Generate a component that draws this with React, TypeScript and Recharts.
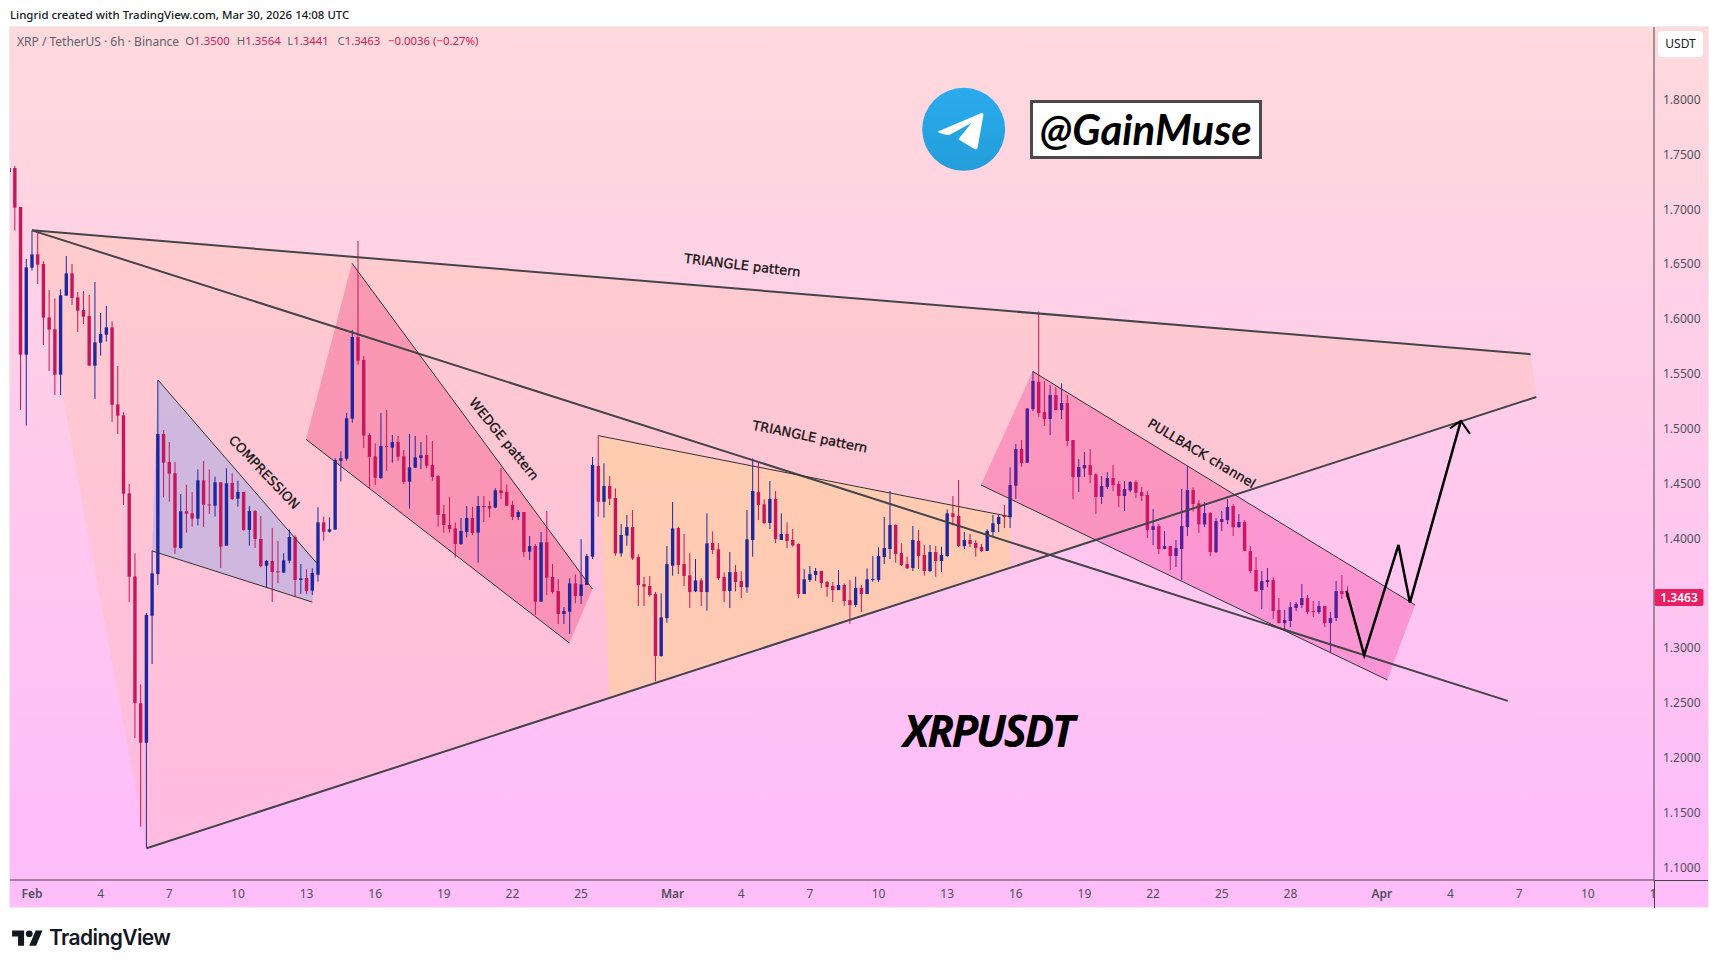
import React from 'react';
import { ComposedChart, Bar, Scatter, XAxis, YAxis, ReferenceDot } from 'recharts';

// candle index 0 is Feb 1 00:00, one candle every 6 hours
const firstCandle = -4;

const opens = [
  1.7340,1.7376,1.7021,1.5675,1.6468,1.6589,1.6501,1.6015,1.5906,1.5493,
  1.6213,1.6416,1.6198,1.6082,1.6027,1.5575,1.5784,1.5857,1.5924,1.5222,
  1.5122,1.4412,1.3655,1.2498,1.2139,1.3296,1.3676,1.4952,1.4697,1.4594,
  1.3913,1.4248,1.4229,1.4181,1.4530,1.4311,1.4299,1.4512,1.3935,1.4506,
  1.4363,1.4424,1.4078,1.4251,1.3995,1.3752,1.3795,1.3701,1.3689,1.3798,
  1.4014,1.3622,1.3640,1.3525,1.3670,1.4147,1.4062,1.4081,1.4709,1.4727,
  1.5092,1.5836,1.5626,1.4943,1.4749,1.4551,1.4843,1.4828,1.4879,1.4749,
  1.4518,1.4645,1.4733,1.4761,1.4670,1.4569,1.4223,1.4123,1.4092,1.3950,
  1.4059,1.4187,1.4053,1.4296,1.4296,1.4281,1.4439,1.4424,1.4305,1.4196,
  1.4241,1.3880,1.3931,1.3424,1.3965,1.3649,1.3521,1.3312,1.3333,1.3591,
  1.3476,1.3576,1.3834,1.4660,1.4335,1.4478,1.4369,1.3865,1.4026,1.4104,
  1.3831,1.3585,1.3567,1.3494,1.2929,1.3275,1.3752,1.4095,1.3767,1.3664,
  1.3518,1.3618,1.3512,1.3959,1.3901,1.3649,1.3521,1.3694,1.3612,1.3555,
  1.3986,1.4423,1.4311,1.4141,1.4360,1.3986,1.4041,1.3986,1.3950,1.3494,
  1.3622,1.3667,1.3704,1.3603,1.3567,1.3530,1.3576,1.3439,1.3394,1.3549,
  1.3494,1.3622,1.3622,1.3831,1.3904,1.4123,1.3868,1.3767,1.3731,1.3977,
  1.3849,1.3704,1.3877,1.3795,1.3840,1.4229,1.4205,1.3931,1.3986,1.3959,
  1.3922,1.3886,1.4059,1.4132,1.4205,1.4193,1.4481,1.4815,1.4690,1.5179,
  1.5426,1.5152,1.5088,1.5307,1.5170,1.5234,1.4897,1.4560,1.4639,1.4669,
  1.4584,1.4378,1.4469,1.4551,1.4496,1.4387,1.4438,1.4514,1.4423,1.4396,
  1.4077,1.4113,1.3904,1.3931,1.3840,1.3904,1.4104,1.4441,1.4320,1.4128,
  1.4232,1.3876,1.4150,1.4168,1.4296,1.4104,1.4150,1.3885,1.3712,1.3530,
  1.3603,1.3621,1.3348,1.3229,1.3248,1.3366,1.3393,1.3457,1.3339,1.3330,
  1.3384,1.3229,1.3275,1.3521,1.3500,
];

const highs = [
  1.7380,1.7394,1.7021,1.6547,1.6805,1.6796,1.6526,1.6264,1.6188,1.6270,
  1.6574,1.6501,1.6246,1.6255,1.6219,1.6337,1.6055,1.6119,1.5979,1.5572,
  1.5150,1.4497,1.3865,1.2671,1.3321,1.3889,1.5444,1.4989,1.4879,1.4697,
  1.4406,1.4488,1.4424,1.4630,1.4706,1.4630,1.4563,1.4515,1.4639,1.4594,
  1.4527,1.4424,1.4296,1.4260,1.4205,1.3804,1.4096,1.3977,1.3865,1.4084,
  1.4029,1.3768,1.3719,1.3728,1.4284,1.4199,1.4193,1.4731,1.4794,1.5143,
  1.5900,1.6711,1.5663,1.4958,1.4867,1.5143,1.5171,1.4943,1.4934,1.4806,
  1.4952,1.4934,1.4879,1.4943,1.4888,1.4578,1.4305,1.4381,1.4147,1.4187,
  1.4296,1.4290,1.4387,1.4387,1.4342,1.4457,1.4642,1.4493,1.4342,1.4259,
  1.4241,1.4023,1.3950,1.4059,1.4250,1.3767,1.3631,1.3376,1.3637,1.3673,
  1.3995,1.3859,1.4742,1.4937,1.4685,1.4569,1.4457,1.4132,1.4214,1.4259,
  1.3858,1.3652,1.3658,1.3512,1.3500,1.3931,1.4332,1.4108,1.4041,1.3865,
  1.3813,1.3637,1.4229,1.4065,1.3959,1.3691,1.3877,1.3758,1.3700,1.4259,
  1.4730,1.4691,1.4357,1.4524,1.4433,1.4229,1.4147,1.4086,1.3956,1.3719,
  1.3749,1.3731,1.3704,1.3612,1.3603,1.3713,1.3591,1.3622,1.3652,1.3576,
  1.3728,1.3840,1.3919,1.4196,1.4433,1.4129,1.3956,1.3834,1.4114,1.4077,
  1.3940,1.3940,1.3931,1.3925,1.4265,1.4387,1.4533,1.4059,1.4041,1.3986,
  1.3950,1.4083,1.4214,1.4214,1.4305,1.4648,1.4861,1.4897,1.5186,1.5523,
  1.6069,1.5435,1.5398,1.5383,1.5413,1.5307,1.4897,1.4724,1.4788,1.4815,
  1.4593,1.4569,1.4605,1.4669,1.4523,1.4523,1.4523,1.4533,1.4469,1.4432,
  1.4268,1.4132,1.4068,1.3931,1.3986,1.4451,1.4660,1.4466,1.4350,1.4332,
  1.4241,1.4186,1.4250,1.4359,1.4314,1.4223,1.4168,1.3931,1.3831,1.3703,
  1.3731,1.3646,1.3457,1.3348,1.3421,1.3421,1.3585,1.3485,1.3430,1.3430,
  1.3384,1.3330,1.3612,1.3667,1.3564,
];

const lows = [
  1.7340,1.6805,1.5171,1.5028,1.6441,1.6319,1.5763,1.5526,1.5308,1.5308,
  1.6213,1.6128,1.5882,1.5955,1.5575,1.5271,1.5666,1.5794,1.5062,1.4952,
  1.4305,1.3421,1.2182,1.1374,1.1177,1.2856,1.3576,1.4375,1.4336,1.3859,
  1.3907,1.4053,1.4108,1.4120,1.4105,1.4223,1.4199,1.3731,1.3935,1.4351,
  1.4290,1.4071,1.3935,1.3913,1.3737,1.3555,1.3421,1.3592,1.3689,1.3774,
  1.3470,1.3494,1.3494,1.3485,1.3607,1.3980,1.4053,1.4081,1.4518,1.4709,
  1.5055,1.5584,1.4824,1.4457,1.4487,1.4542,1.4618,1.4691,1.4706,1.4496,
  1.4272,1.4642,1.4633,1.4642,1.4527,1.4108,1.4053,1.4056,1.3825,1.3941,
  1.4010,1.4032,1.3780,1.4150,1.4193,1.4275,1.4360,1.4296,1.4168,1.4168,
  1.3831,1.3804,1.3303,1.3424,1.3485,1.3497,1.3221,1.3221,1.3130,1.3409,
  1.3403,1.3576,1.3813,1.4199,1.4190,1.4305,1.3843,1.3834,1.3934,1.3804,
  1.3385,1.3385,1.3470,1.2698,1.2923,1.3233,1.3661,1.3676,1.3567,1.3366,
  1.3512,1.3385,1.3342,1.3858,1.3622,1.3421,1.3366,1.3518,1.3457,1.3506,
  1.3834,1.4168,1.4132,1.4086,1.3959,1.3986,1.3913,1.3925,1.3457,1.3494,
  1.3603,1.3612,1.3549,1.3470,1.3421,1.3530,1.3385,1.3221,1.3375,1.3330,
  1.3494,1.3606,1.3603,1.3767,1.3813,1.3779,1.3749,1.3722,1.3704,1.3722,
  1.3661,1.3694,1.3652,1.3694,1.3834,1.4120,1.3922,1.3904,1.3922,1.3834,
  1.3877,1.3886,1.4010,1.4059,1.4095,1.4095,1.4359,1.4654,1.4690,1.5161,
  1.5110,1.5025,1.4943,1.5170,1.5088,1.4842,1.4359,1.4423,1.4560,1.4505,
  1.4223,1.4314,1.4451,1.4432,1.4286,1.4250,1.4423,1.4368,1.4341,1.4004,
  1.3940,1.3858,1.3904,1.3712,1.3740,1.3621,1.4022,1.4244,1.4050,1.4104,
  1.3840,1.3867,1.4068,1.4131,1.4022,1.4095,1.3885,1.3685,1.3512,1.3357,
  1.3557,1.3266,1.3229,1.3175,1.3193,1.3339,1.3366,1.3311,1.3284,1.3311,
  1.3193,1.2959,1.3248,1.3448,1.3441,
];

const closes = [
  1.7376,1.7015,1.5675,1.6471,1.6589,1.6495,1.6012,1.5903,1.5493,1.6216,
  1.6416,1.6192,1.6076,1.6021,1.5575,1.5787,1.5863,1.5924,1.5219,1.5119,
  1.4408,1.3652,1.2501,1.2139,1.3303,1.3683,1.4952,1.4691,1.4591,1.3917,
  1.4248,1.4226,1.4181,1.4530,1.4308,1.4305,1.4512,1.3926,1.4503,1.4360,
  1.4424,1.4078,1.4251,1.3995,1.3749,1.3795,1.3695,1.3695,1.3801,1.4014,
  1.3622,1.3637,1.3522,1.3686,1.4147,1.4062,1.4084,1.4715,1.4731,1.5095,
  1.5836,1.5620,1.4937,1.4745,1.4554,1.4843,1.4834,1.4879,1.4745,1.4515,
  1.4648,1.4739,1.4758,1.4663,1.4560,1.4214,1.4123,1.4086,1.3950,1.4068,
  1.4187,1.4050,1.4296,1.4290,1.4272,1.4439,1.4414,1.4299,1.4196,1.4241,
  1.3877,1.3931,1.3424,1.3965,1.3643,1.3512,1.3312,1.3339,1.3591,1.3476,
  1.3582,1.3840,1.4670,1.4335,1.4478,1.4363,1.3865,1.4032,1.4104,1.3819,
  1.3576,1.3561,1.3485,1.2929,1.3281,1.3767,1.4092,1.3758,1.3658,1.3512,
  1.3618,1.3512,1.3956,1.3895,1.3637,1.3521,1.3694,1.3603,1.3558,1.3992,
  1.4433,1.4305,1.4141,1.4360,1.3995,1.4041,1.3977,1.3937,1.3494,1.3628,
  1.3676,1.3704,1.3594,1.3558,1.3530,1.3576,1.3430,1.3394,1.3549,1.3494,
  1.3628,1.3631,1.3840,1.3913,1.4123,1.3858,1.3758,1.3728,1.3986,1.3840,
  1.3704,1.3877,1.3795,1.3849,1.4229,1.4196,1.3931,1.3986,1.3950,1.3913,
  1.3886,1.4068,1.4138,1.4196,1.4196,1.4487,1.4815,1.4687,1.5186,1.5435,
  1.5143,1.5088,1.5307,1.5170,1.5234,1.4888,1.4560,1.4651,1.4669,1.4578,
  1.4378,1.4478,1.4551,1.4487,1.4387,1.4451,1.4514,1.4417,1.4387,1.4077,
  1.4113,1.3904,1.3931,1.3840,1.3913,1.4113,1.4441,1.4314,1.4128,1.4232,
  1.3876,1.4159,1.4177,1.4286,1.4104,1.4150,1.3888,1.3703,1.3521,1.3612,
  1.3621,1.3339,1.3229,1.3257,1.3375,1.3403,1.3457,1.3330,1.3330,1.3384,
  1.3229,1.3275,1.3521,1.3494,1.3463,
];

// 1.3500 sits behind the last price tag in the original, so it is not listed
const priceTicks = [1.1, 1.15, 1.2, 1.25, 1.3, 1.4, 1.45, 1.5, 1.55, 1.6, 1.65, 1.7, 1.75, 1.8];
const timeTicks = [0, 12, 24, 36, 48, 60, 72, 84, 96, 112, 124, 136, 148, 160, 172, 184, 196, 208, 220, 236, 248, 260, 272, 284];
const timeLabels = ['Feb', '4', '7', '10', '13', '16', '19', '22', '25', 'Mar', '4', '7', '10', '13', '16', '19', '22', '25', '28', 'Apr', '4', '7', '10', '13'];
const lastPrice = 1.3463;

// drawings, in candle index / price
const bigTriangle = [{ x: 0, y: 1.6808 }, { x: 262, y: 1.568 }, { x: 263, y: 1.529 }, { x: 20.03, y: 1.1177 }];
const topLine = [{ x: 0, y: 1.6808 }, { x: 262, y: 1.568 }];
const bottomLine = [{ x: 20.03, y: 1.1177 }, { x: 263, y: 1.529 }];
const diagonalLine = [{ x: 0, y: 1.6808 }, { x: 258, y: 1.252 }];
const compression = [{ x: 22.03, y: 1.5444 }, { x: 49.9, y: 1.3768 }, { x: 49, y: 1.3421 }, { x: 21.03, y: 1.3886 }];
const wedge = [{ x: 55.94, y: 1.6508 }, { x: 97.97, y: 1.354 }, { x: 93.97, y: 1.3047 }, { x: 47.9, y: 1.4904 }];
const orangeTriangle = [{ x: 99, y: 1.4937 }, { x: 171, y: 1.4199 }, { x: 171, y: 1.3743 }, { x: 100.9, y: 1.2558 }];
const pullback = [{ x: 174.94, y: 1.5523 }, { x: 241.8, y: 1.3394 }, { x: 236.95, y: 1.2711 }, { x: 165.9, y: 1.4488 }];
const forecastPath = [
  { x: 229.8, y: 1.3524 }, { x: 232.9, y: 1.2938 }, { x: 238.9, y: 1.3941 }, { x: 240.9, y: 1.3415 }, { x: 249.8, y: 1.5072 },
];
const forecastHead = [{ x: 247.9, y: 1.5004 }, { x: 249.8, y: 1.5072 }, { x: 251.4, y: 1.4953 }];

const noteTexts = ['COMPRESSION', 'WEDGE pattern', 'TRIANGLE pattern', 'TRIANGLE pattern', 'PULLBACK channel'];
const noteX = [40.6, 82.5, 124.2, 136, 204.5];
const noteY = [1.4603, 1.4907, 1.649, 1.4928, 1.4776];
const noteAngles = [46.4, 50.8, 6.8, 11.5, 30.7];
const notes = noteTexts.map((text, i) => ({ text, x: noteX[i], y: noteY[i], angle: noteAngles[i] }));

const candles = opens.map((open, i) => ({
  x: firstCandle + i,
  open,
  high: highs[i],
  low: lows[i],
  close: closes[i],
  range: [lows[i], highs[i]],
}));

const WIDTH = 1718;
const HEIGHT = 968;
const AXIS_X = 1654;
const UP = '#1F279F';
const DOWN = '#C4175C';
const TICK = '#50505C';
const LINE = '#44444A';
const RED_TEXT = '#D02060';
const GREY_TEXT = '#60606E';
const FONT = '"Noto Sans", sans-serif';

const Candle = (props: any) => {
  const { x, y, width, height, payload } = props;
  const { open, high, low, close } = payload;
  const color = close >= open ? UP : DOWN;
  const cx = x + width / 2;
  const at = (v: number) => y + ((high - v) / (high - low)) * height;
  const top = at(Math.max(open, close));
  const bottom = at(Math.min(open, close));
  return (
    <g>
      <line x1={cx} x2={cx} y1={y} y2={y + height} stroke={color} strokeWidth={1} />
      <rect x={cx - 1.7} y={top} width={3.4} height={Math.max(bottom - top, 1)} fill={color} />
    </g>
  );
};

const noMark = () => <g />;
const toPoints = (pts: any[]) => pts.map((p) => `${p.x},${p.y}`).join(' ');

// Scatter hands its line renderer the scaled points, which gives polygons and polylines on the axes
const area = (key: string, data: any[], fill: string, zIndex: number) => (
  <Scatter
    key={key}
    data={data}
    shape={noMark}
    isAnimationActive={false}
    zIndex={zIndex}
    line={(p: any) => <polygon points={toPoints(p.points)} fill={fill} stroke="none" />}
  />
);

const stroke = (key: string, data: any[], color: string, width: number, zIndex: number) => (
  <Scatter
    key={key}
    data={data}
    shape={noMark}
    isAnimationActive={false}
    zIndex={zIndex}
    line={(p: any) => (
      <polyline points={toPoints(p.points)} fill="none" stroke={color} strokeWidth={width} strokeLinejoin="miter" />
    )}
  />
);

const NoteText = (props: any) => {
  const { cx, cy, payload } = props;
  return (
    <text
      x={cx}
      y={cy}
      transform={`rotate(${payload.angle} ${cx} ${cy})`}
      textAnchor="middle"
      dominantBaseline="central"
      fontFamily='"DejaVu Sans", sans-serif'
      fontSize={13}
      fill="#111"
      stroke="#111"
      strokeWidth={0.3}
    >
      {payload.text}
    </text>
  );
};

const TimeTick = (props: any) => {
  const { x, y, payload } = props;
  const label = timeLabels[timeTicks.indexOf(payload.value)];
  const isMonth = label.length === 3;
  return (
    <g>
      <clipPath id={`time-${payload.value}`}>
        <rect x={0} y={880} width={AXIS_X} height={28} />
      </clipPath>
      <text
        x={x}
        y={y + 11.5}
        clipPath={`url(#time-${payload.value})`}
        textAnchor="middle"
        dominantBaseline="central"
        fontFamily={FONT}
        fontSize={12}
        fontWeight={isMonth ? 600 : 400}
        fill={TICK}
      >
        {label}
      </text>
    </g>
  );
};

const PriceTag = (props: any) => {
  const { cx, cy } = props;
  return (
    <g>
      <rect x={cx + 0.5} y={cy - 8.5} width={49} height={17} rx={2} fill="#E91E63" />
      <text
        x={cx + 25}
        y={cy}
        textAnchor="middle"
        dominantBaseline="central"
        fontFamily={FONT}
        fontSize={12}
        fontWeight={600}
        fill="#fff"
      >
        {lastPrice.toFixed(4)}
      </text>
    </g>
  );
};

const abs = (left: number, top: number, extra: React.CSSProperties = {}): React.CSSProperties => ({
  position: 'absolute',
  left,
  top,
  ...extra,
});

const Ohlc = ({ left, label, value }: { left: number; label: string; value: string }) => (
  <div style={abs(left, 33, { fontSize: 11.4, whiteSpace: 'pre', color: RED_TEXT })}>
    <span style={{ color: GREY_TEXT }}>{label}</span>
    {value}
  </div>
);

export default function App() {
  return (
    <div style={abs(0, 0, { width: WIDTH, height: HEIGHT, background: '#fff', overflow: 'hidden', fontFamily: FONT })}>
      <div style={abs(10, 7, { fontSize: 11.45, fontWeight: 500, color: '#131722', whiteSpace: 'nowrap' })}>
        Lingrid created with TradingView.com, Mar 30, 2026 14:08 UTC
      </div>

      <div
        style={abs(9, 26, {
          width: 1698,
          height: 880,
          border: '1px solid #EDEDED',
          background: 'linear-gradient(180deg, #FFDADC 0%, #FFBDFA 92%, #FFBDFA 100%)',
        })}
      />

      <div style={abs(0, 0)}>
        <ComposedChart
          width={WIDTH}
          height={HEIGHT}
          data={candles}
          margin={{ top: 27, right: 10, bottom: 60, left: 10 }}
        >
          <XAxis
            dataKey="x"
            type="number"
            domain={[-3.846, 283.57]}
            allowDataOverflow
            ticks={timeTicks}
            interval={0}
            height={28}
            tickSize={0}
            tick={<TimeTick />}
            axisLine={{ stroke: LINE }}
            tickLine={false}
          />
          <YAxis
            dataKey="y"
            type="number"
            orientation="right"
            domain={[1.0888, 1.8661]}
            allowDataOverflow
            ticks={priceTicks}
            interval={0}
            width={54}
            tickSize={0}
            tickMargin={9}
            tickFormatter={(v: number) => v.toFixed(4)}
            tick={{ fill: TICK, fontSize: 12, fontFamily: FONT }}
            axisLine={{ stroke: LINE }}
            tickLine={false}
          />

          {area('big-triangle', bigTriangle, 'rgba(255,180,120,0.2)', 110)}
          {area('compression', compression, 'rgba(160,170,230,0.5)', 120)}
          {area('wedge', wedge, 'rgba(238,40,110,0.3)', 120)}
          {area('orange', orangeTriangle, 'rgba(255,210,150,0.55)', 120)}

          <Bar dataKey="range" barSize={4} shape={<Candle />} isAnimationActive={false} zIndex={300} />

          {area('pullback', pullback, 'rgba(238,15,127,0.26)', 400)}

          {stroke('top-line', topLine, LINE, 2, 500)}
          {stroke('bottom-line', bottomLine, LINE, 2, 500)}
          {stroke('diagonal-line', diagonalLine, LINE, 2, 500)}
          {stroke('compression-top', compression.slice(0, 2), '#333', 1, 500)}
          {stroke('compression-bottom', compression.slice(2), '#333', 1, 500)}
          {stroke('wedge-top', wedge.slice(0, 2), '#333', 1, 500)}
          {stroke('wedge-bottom', wedge.slice(2), '#333', 1, 500)}
          {stroke('orange-top', orangeTriangle.slice(0, 2), '#333', 1, 500)}
          {stroke('pullback-top', pullback.slice(0, 2), '#333', 1, 500)}
          {stroke('pullback-bottom', pullback.slice(2), '#333', 1, 500)}
          {stroke('forecast', forecastPath, '#000', 2.5, 510)}
          {stroke('forecast-head', forecastHead, '#000', 2, 510)}

          <Scatter data={notes} shape={<NoteText />} isAnimationActive={false} zIndex={520} />

          <ReferenceDot
            x={283.57}
            y={lastPrice}
            ifOverflow="visible"
            shape={<PriceTag />}
            zIndex={600}
          />
        </ComposedChart>
      </div>

      {/* axis lines run on past the plot area */}
      <div style={abs(1654, 880, { width: 54, height: 1, background: LINE })} />
      <div style={abs(1654, 880, { width: 1, height: 28, background: LINE })} />

      <div style={abs(17, 33, { fontSize: 12, whiteSpace: 'pre', color: GREY_TEXT })}>XRP / TetherUS · 6h · Binance</div>
      <Ohlc left={185.2} label="O" value="1.3500" />
      <Ohlc left={236.7} label="H" value="1.3564" />
      <Ohlc left={287.2} label="L" value="1.3441" />
      <Ohlc left={337.5} label="C" value="1.3463" />
      <Ohlc left={387.9} label="" value="−0.0036 (−0.27%)" />

      <div
        style={abs(1658, 31, {
          width: 45,
          height: 26,
          background: '#fff',
          borderRadius: 4,
          fontSize: 12,
          color: '#131722',
          textAlign: 'center',
          lineHeight: '26px',
        })}
      >
        USDT
      </div>

      <svg style={abs(880, 60)} width={420} height={130} viewBox="0 0 1260 390">
        <defs>
          <linearGradient id="telegram" x1="0" y1="0" x2="0" y2="1">
            <stop offset="0%" stopColor="#2AABEE" />
            <stop offset="100%" stopColor="#229ED9" />
          </linearGradient>
        </defs>
        <circle cx={251} cy={208} r={124.5} fill="url(#telegram)" />
        <path
          d="M177 213 L303 160 Q311 157 310 166 L293 262 Q291 272 282 266 L235 238 L275 188 L208 225 Q200 226 180 219 Q170 215 177 213 Z"
          fill="#fff"
        />
      </svg>

      <div
        style={abs(1030, 100, {
          width: 225.5,
          height: 52.5,
          border: '3px solid #4A4A4A',
          background: '#fff',
          color: '#000',
          fontFamily: 'Lato, sans-serif',
          fontStyle: 'italic',
          fontWeight: 700,
          fontSize: 42,
          lineHeight: '52px',
          textAlign: 'center',
          whiteSpace: 'nowrap',
        })}
      >
        @GainMuse
      </div>

      <div
        style={abs(903, 702, {
          fontFamily: '"Open Sans", sans-serif',
          fontStyle: 'italic',
          fontWeight: 700,
          fontSize: 44,
          lineHeight: '56px',
          letterSpacing: -2.5,
          color: '#000',
          whiteSpace: 'nowrap',
        })}
      >
        XRPUSDT
      </div>

      <svg style={abs(11.5, 926.6)} width={31} height={24} viewBox="0 0 36 28">
        <path d="M14 22H7V11H0V4h14v18zM28 22h-8l7.5-18h8L28 22z" fill="#131722" />
        <circle cx={20} cy={8} r={4} fill="#131722" />
      </svg>
      <div style={abs(49, 924, { fontFamily: 'Inter, sans-serif', fontWeight: 600, fontSize: 21, lineHeight: '28px', color: '#131722', whiteSpace: 'nowrap', letterSpacing: -0.6 })}>
        TradingView
      </div>
    </div>
  );
}
